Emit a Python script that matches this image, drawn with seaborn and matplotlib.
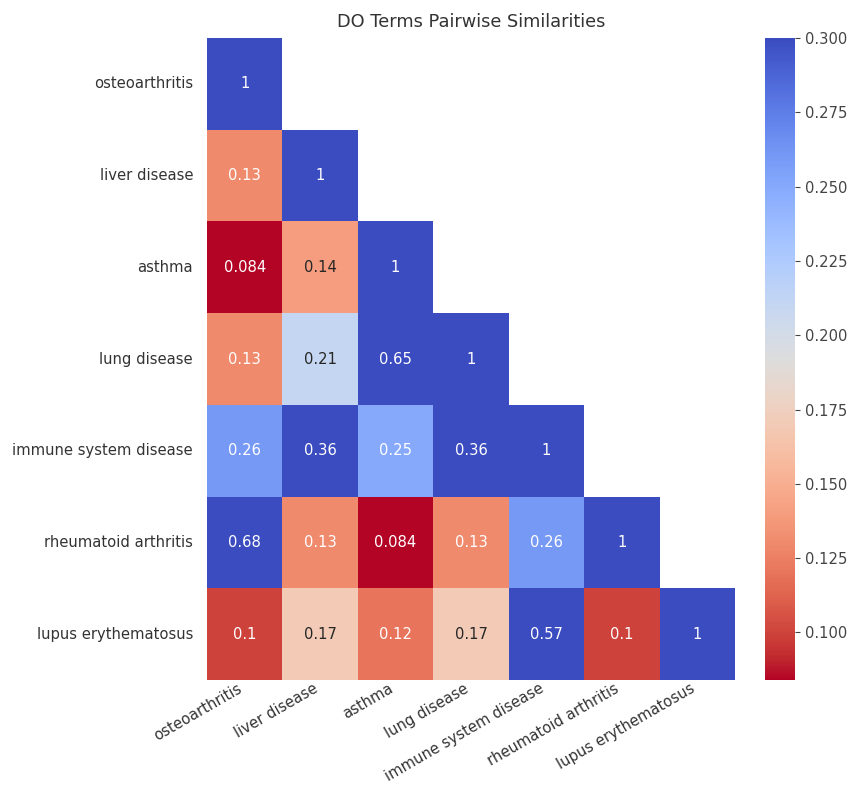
import numpy as np
import pandas as pd
import seaborn as sns
import matplotlib.pyplot as plt

terms = ["osteoarthritis", "liver disease", "asthma", "lung disease",
         "immune system disease", "rheumatoid arthritis", "lupus erythematosus"]

# lower-triangle similarity rows (including the diagonal)
row_osteoarthritis = [1]
row_liver = [0.13, 1]
row_asthma = [0.084, 0.14, 1]
row_lung = [0.13, 0.21, 0.65, 1]
row_immune = [0.26, 0.36, 0.25, 0.36, 1]
row_rheumatoid = [0.68, 0.13, 0.084, 0.13, 0.26, 1]
row_lupus = [0.1, 0.17, 0.12, 0.17, 0.57, 0.1, 1]

rows = [row_osteoarthritis, row_liver, row_asthma, row_lung,
        row_immune, row_rheumatoid, row_lupus]

n = len(terms)
sim = np.full((n, n), np.nan)
for i, r in enumerate(rows):
    for j, v in enumerate(r):
        sim[i, j] = v
        sim[j, i] = v

df = pd.DataFrame(sim, index=terms, columns=terms)
mask = np.triu(np.ones_like(sim, dtype=bool), k=1)

plt.rcParams['font.family'] = ['DejaVu Sans']
fig = plt.figure(figsize=(8.54, 7.89), dpi=100)
ax = fig.add_axes([0.2424, 0.1381, 0.6183, 0.8137])
cax = fig.add_axes([0.8958, 0.1381, 0.0351, 0.8137])

fs = 10.6
sns.heatmap(df, mask=mask, cmap="coolwarm_r", vmax=0.3, annot=True,
            ax=ax, cbar_ax=cax, annot_kws={"fontsize": fs})

ax.set_title("DO Terms Pairwise Similarities", fontsize=12.8, color="#333333", pad=8)
ax.set_xticklabels(terms, rotation=30, ha="right", fontsize=fs, color="#333333")
ax.set_yticklabels(terms, rotation=0, fontsize=fs, color="#333333")
ax.tick_params(axis="y", length=0, pad=10)
ax.tick_params(axis="x", length=0, pad=0.5)
cax.tick_params(labelsize=fs, labelcolor="#444444", length=3.5, color="#444444")

fig.savefig("out.png", dpi=100)
